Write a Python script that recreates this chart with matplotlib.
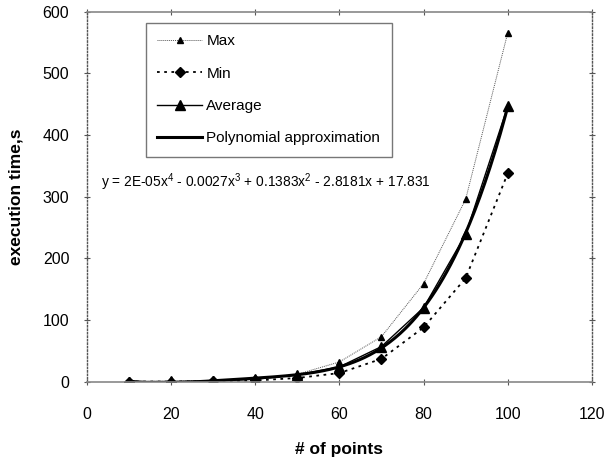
import numpy as np
import matplotlib
matplotlib.use("Agg")
import matplotlib.pyplot as plt

points = [10, 20, 30, 40, 50, 60, 70, 80, 90, 100]
max_vals = [0.3, 0.6, 2, 5, 12, 32, 73, 159, 296, 566]
min_vals = [0.1, 0.2, 0.8, 2, 6, 14, 37, 88, 168, 338]
avg_vals = [0.2, 0.4, 1.2, 4, 11, 24, 57, 120, 239, 447]
x_ticks = [0, 20, 40, 60, 80, 100, 120]
y_ticks = [0, 100, 200, 300, 400, 500, 600]
equation = "y = 2E-05x$^{4}$ - 0.0027x$^{3}$ + 0.1383x$^{2}$ - 2.8181x + 17.831"

fam = "Liberation Sans"
plt.rcParams['font.family'] = [fam, 'DejaVu Sans']
plt.rcParams['mathtext.fontset'] = 'custom'
plt.rcParams['mathtext.rm'] = fam

fig = plt.figure(figsize=(6.05, 4.58), dpi=100)
ax = fig.add_axes([86.7/605, 1-381.7/458, (592-86.7)/605, (381.7-11.7)/458])

coef = np.polyfit(points, avg_vals, 4)
xs = np.linspace(points[0], points[-1], 300)
ys = np.polyval(coef, xs)

ax.plot(points, max_vals, color='#555555', lw=0.7, ls=(0, (1, 1)), marker='^', ms=5,
        mfc='black', mec='black', label='Max', zorder=3)
ax.plot(points, min_vals, color='black', lw=1.3, ls=(0, (1.5, 2.5)), marker='D', ms=5.5,
        mfc='black', mec='black', label='Min', zorder=3)
ax.plot(points, avg_vals, color='black', lw=1.0, ls='-', marker='^', ms=7,
        mfc='black', mec='black', label='Average', zorder=4)
ax.plot(xs, ys, color='black', lw=2.2, label='Polynomial approximation', zorder=4)

ax.set_xlim(0, 120)
ax.set_ylim(0, 600)
ax.set_xticks(x_ticks)
ax.set_yticks(y_ticks)
ax.tick_params(axis='both', labelsize=11.5, direction='inout', length=5, width=0.8,
               color='#555555', top=True, right=True)
ax.tick_params(axis='x', pad=16)
ax.tick_params(axis='y', pad=10)

for s in ['left', 'right']:
    ax.spines[s].set_linestyle((0, (1, 1.5)))
    ax.spines[s].set_color('#555555')
    ax.spines[s].set_linewidth(1.0)
for s in ['top', 'bottom']:
    ax.spines[s].set_color('#888888')
    ax.spines[s].set_linewidth(1.2)
for s in ax.spines.values():
    s.set_zorder(5)

ax.set_xlabel('# of points', fontsize=12.5, fontweight='bold', labelpad=14)
ax.set_ylabel('execution time,s', fontsize=12.5, fontweight='bold', labelpad=14)

leg = ax.legend(loc='upper left', bbox_to_anchor=((146-86.7)/505.3, (381.7-23)/370),
                frameon=True, fancybox=False, edgecolor='#555555', fontsize=11,
                handlelength=2.9, borderpad=0.75, labelspacing=1.2, handletextpad=0.3,
                borderaxespad=0)
leg.get_frame().set_linewidth(1.0)

ax.text(101/605, 1-182/458, equation, transform=fig.transFigure, fontsize=9.9,
        va='center', ha='left')

fig.savefig('out.png', dpi=100)
